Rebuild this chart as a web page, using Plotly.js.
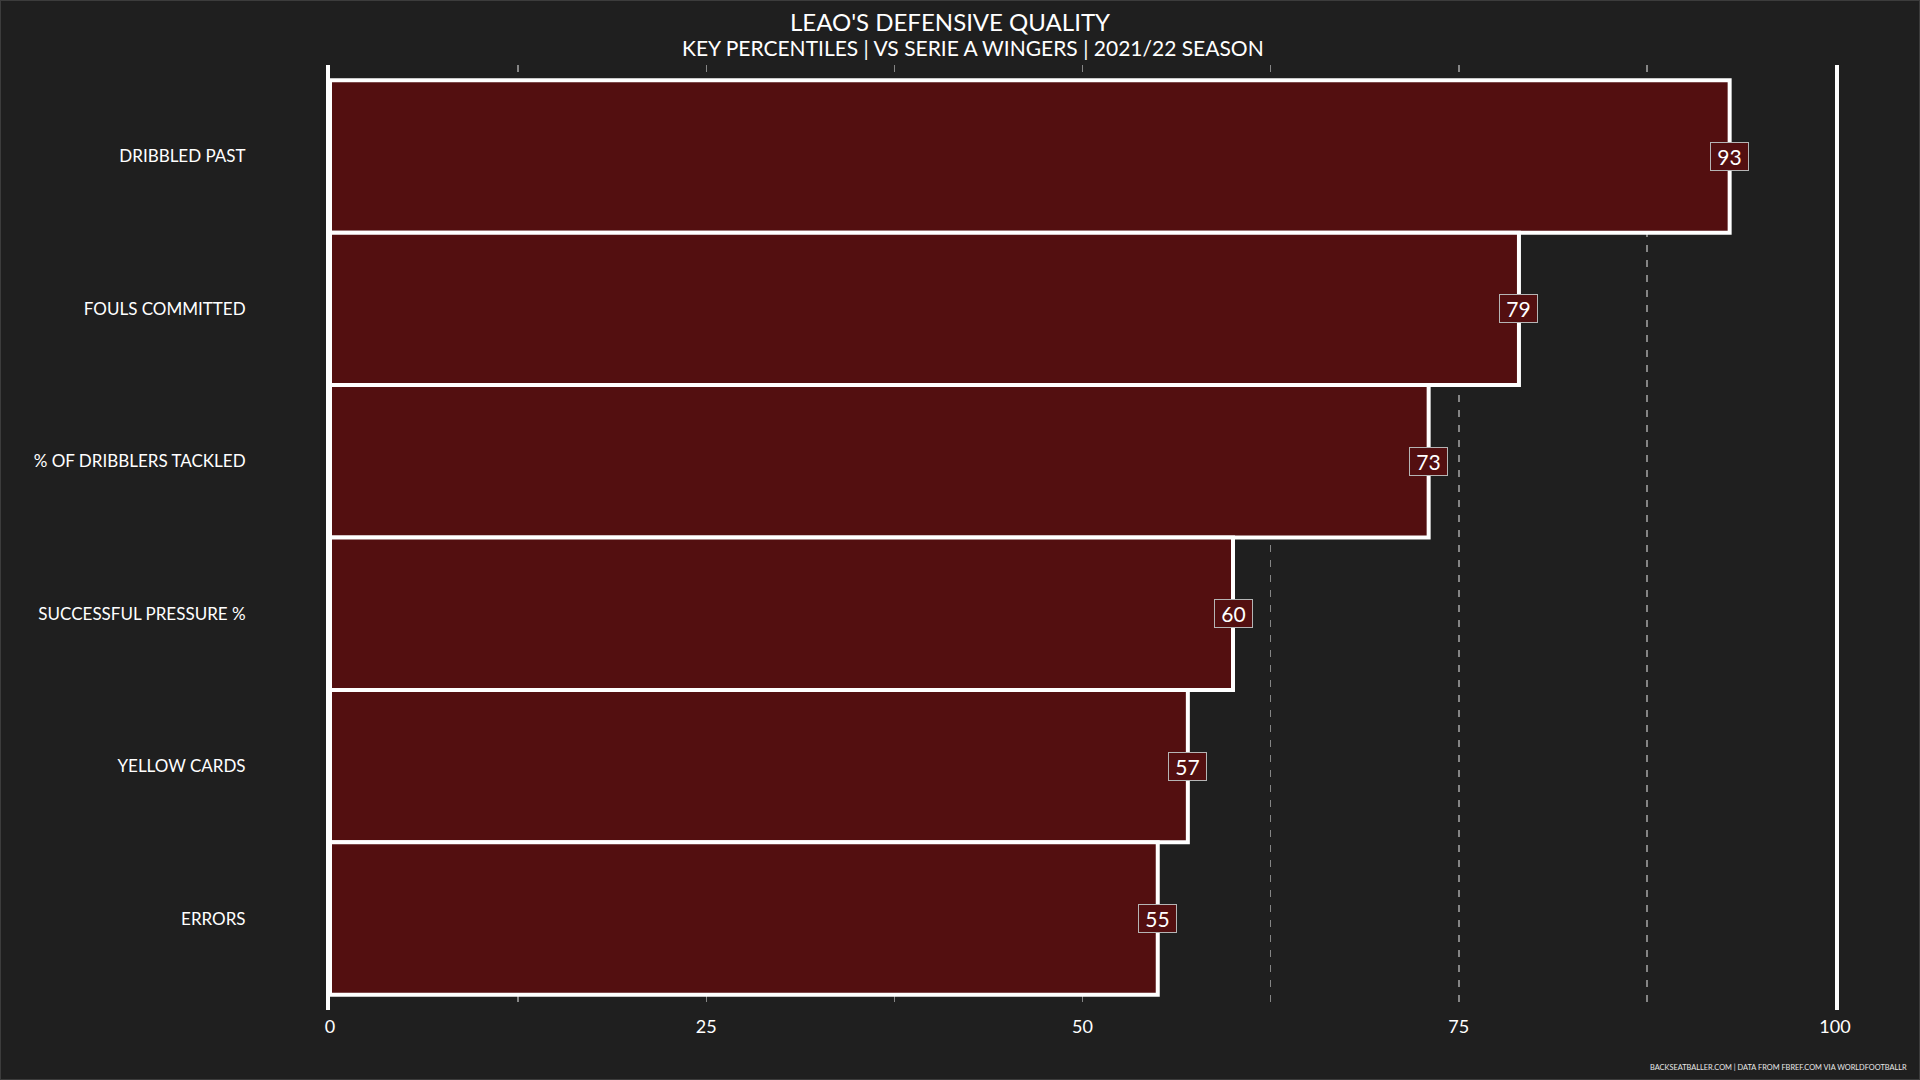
<!DOCTYPE html>
<html>
<head>
<meta charset="utf-8">
<script src="https://cdn.plot.ly/plotly-3.0.1.min.js"></script>
<style>
    body { margin: 0; background: #1f1f1f; }
    #frame { width: 1920px; height: 1080px; box-sizing: border-box; border: 1px solid #3c3c3c; }
</style>
</head>
<body>
<div id="frame"><div id="DefensePlot"></div></div>
<script>
const metrics = [
    "DRIBBLED PAST",
    "FOULS COMMITTED",
    "% OF DRIBBLERS TACKLED",
    "SUCCESSFUL PRESSURE %",
    "YELLOW CARDS",
    "ERRORS",
];
const percentiles = [93, 79, 73, 60, 57, 55];
const xTicks = [0, 25, 50, 75, 100];

const titleText = "LEAO'S DEFENSIVE QUALITY";
const subtitleText = "KEY PERCENTILES | VS SERIE A WINGERS | 2021/22 SEASON";
const footerText = "BACKSEATBALLER.COM | DATA FROM FBREF.COM VIA WORLDFOOTBALLR";

const barColor = "#530f10";
const bgColor = "#1f1f1f";
const gridStyle = { color: "#858585", dash: "7px,8px", width: 1.5 };

function valueLabels(names, values) {
    let labels = [];
    for (let i = 0; i < values.length; i++) {
        labels.push({
            x: values[i],
            y: names[i],
            text: String(values[i]),
            showarrow: false,
            font: { family: "Lato", size: 21, color: "#ffffff" },
            bgcolor: barColor,
            bordercolor: "#b5b5b5",
            borderwidth: 1,
            borderpad: 1,
            width: 35,
            height: 25,
        });
    }
    return labels;
}

function drawChart() {
    const bars = {
        type: "bar",
        orientation: "h",
        x: percentiles,
        y: metrics,
        width: 1,
        marker: { color: barColor, line: { color: "#ffffff", width: 4 } },
        hoverinfo: "x+y",
    };

    const annotations = valueLabels(metrics, percentiles);

    // titles sit on the page, not the panel
    annotations.push({
        xref: "paper", yref: "paper", x: 0.412, y: 1,
        yshift: 44, yanchor: "middle", xanchor: "center",
        text: titleText, showarrow: false,
        font: { family: "Lato", size: 24, color: "#ffffff" },
    });
    annotations.push({
        xref: "paper", yref: "paper", x: 0.427, y: 1,
        yshift: 18, yanchor: "middle", xanchor: "center",
        text: subtitleText, showarrow: false,
        font: { family: "Lato", size: 21, color: "#ffffff" },
    });
    annotations.push({
        xref: "paper", yref: "paper", x: 1, y: 0,
        xshift: 74, yshift: -57, xanchor: "right", yanchor: "middle",
        text: footerText, showarrow: false,
        font: { family: "Lato", size: 7.4, color: "#e8e8e8" },
    });

    const layout = {
        width: 1918,
        height: 1078,
        paper_bgcolor: bgColor,
        plot_bgcolor: bgColor,
        margin: { l: 329, r: 84, t: 64, b: 69 },
        showlegend: false,
        font: { family: "Lato", color: "#ffffff" },
        bargap: 0,
        xaxis: {
            range: [0, 100],
            tickvals: xTicks,
            ticks: "",
            showgrid: true,
            gridcolor: gridStyle.color,
            griddash: gridStyle.dash,
            gridwidth: gridStyle.width,
            minor: {
                dtick: 12.5,
                showgrid: true,
                gridcolor: gridStyle.color,
                griddash: gridStyle.dash,
                gridwidth: gridStyle.width,
            },
            zeroline: false,
            showline: false,
            ticklabelstandoff: 4,
            tickfont: { family: "Lato", size: 18, color: "#ffffff" },
            fixedrange: true,
        },
        yaxis: {
            type: "category",
            range: [metrics.length - 0.4, -0.6],
            ticks: "",
            showgrid: false,
            zeroline: false,
            showline: true,
            mirror: true,
            linecolor: "#ffffff",
            linewidth: 4,
            ticklabelstandoff: 77,
            tickfont: { family: "Lato", size: 17, color: "#ffffff" },
            fixedrange: true,
        },
        annotations: annotations,
    };

    Plotly.newPlot("DefensePlot", [bars], layout, { displayModeBar: false, staticPlot: true });
}

drawChart();
</script>
</body>
</html>
